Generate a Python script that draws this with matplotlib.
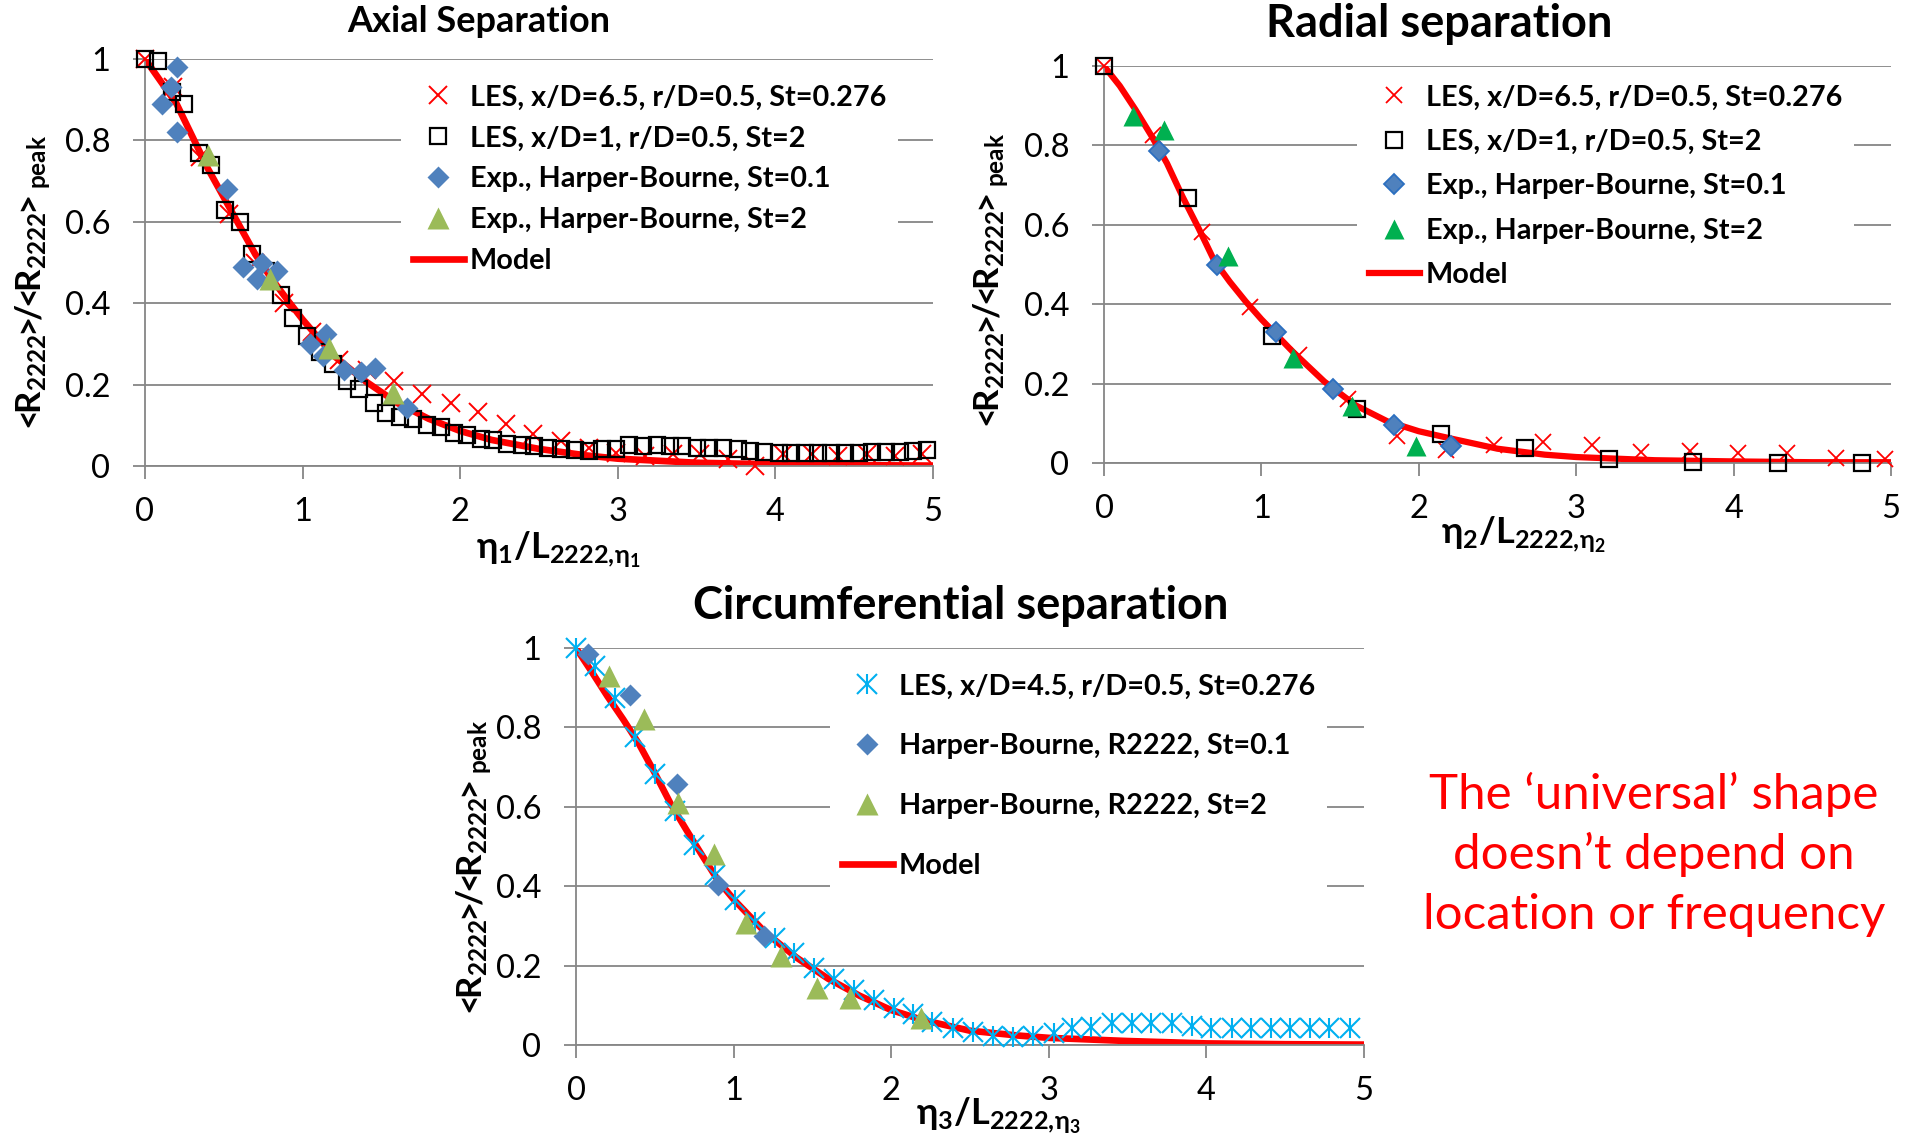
import matplotlib
matplotlib.use('Agg')
import matplotlib.pyplot as plt

plt.rcParams['font.family'] = ['Lato', 'DejaVu Sans']
plt.rcParams['mathtext.fontset'] = 'custom'
plt.rcParams['mathtext.rm'] = 'Lato'
plt.rcParams['mathtext.bf'] = 'Lato:bold'
plt.rcParams['mathtext.it'] = 'Lato:italic'
plt.rcParams['mathtext.fallback'] = 'stixsans'

# ---- Axial separation data ----
axial_les65_x = [0.00, 0.18, 0.35, 0.53, 0.70, 0.88, 1.06, 1.23, 1.41, 1.58, 1.76, 1.94, 2.11, 2.29, 2.46,
                 2.64, 2.82, 2.99, 3.17, 3.35, 3.52, 3.70, 3.87, 4.05, 4.23, 4.40, 4.58, 4.76, 4.93]
axial_les65_y = [1.00, 0.93, 0.76, 0.62, 0.50, 0.40, 0.33, 0.26, 0.235, 0.21, 0.177, 0.156, 0.132, 0.103, 0.078,
                 0.062, 0.045, 0.033, 0.025, 0.029, 0.029, 0.016, 0.0, 0.029, 0.029, 0.025, 0.029, 0.025, 0.029]

axial_les1_x = [0.00, 0.085, 0.17, 0.25, 0.34, 0.42, 0.51, 0.60, 0.68, 0.77, 0.86, 0.94, 1.03, 1.11, 1.19,
                1.28, 1.36, 1.45, 1.53, 1.62, 1.70, 1.79, 1.88, 1.96, 2.04, 2.13, 2.21, 2.30, 2.39, 2.47,
                2.56, 2.64, 2.73, 2.82, 2.90, 2.99, 3.07, 3.16, 3.25, 3.33, 3.41, 3.50, 3.58, 3.67, 3.76,
                3.84, 3.93, 4.02, 4.10, 4.19, 4.27, 4.35, 4.44, 4.53, 4.61, 4.70, 4.79, 4.87, 4.96]
axial_les1_y = [1.00, 0.996, 0.92, 0.89, 0.77, 0.74, 0.63, 0.60, 0.52, 0.48, 0.42, 0.364, 0.32, 0.28, 0.25,
                0.21, 0.19, 0.155, 0.13, 0.12, 0.115, 0.100, 0.097, 0.082, 0.076, 0.066, 0.063, 0.053, 0.051, 0.048,
                0.045, 0.041, 0.039, 0.037, 0.041, 0.041, 0.051, 0.049, 0.051, 0.049, 0.048, 0.045, 0.045, 0.043, 0.041,
                0.037, 0.035, 0.033, 0.033, 0.033, 0.033, 0.033, 0.033, 0.033, 0.035, 0.035, 0.035, 0.037, 0.039]

axial_hb01_x = [0.20, 0.165, 0.11, 0.20, 0.52, 0.62, 0.74, 0.71, 0.84, 1.05, 1.15, 1.13, 1.26, 1.37, 1.46, 1.66]
axial_hb01_y = [0.98, 0.93, 0.89, 0.82, 0.68, 0.49, 0.50, 0.46, 0.48, 0.30, 0.325, 0.27, 0.235, 0.23, 0.24, 0.143]

axial_hb2_x = [0.40, 0.79, 1.17, 1.575]
axial_hb2_y = [0.765, 0.46, 0.29, 0.18]

axial_model_x = [0.0, 0.1, 0.2, 0.3, 0.4, 0.5, 0.6, 0.7, 0.8, 0.9, 1.0, 1.2, 1.4, 1.6, 1.8, 2.0, 2.2, 2.5,
                 2.8, 3.0, 3.5, 4.0, 4.5, 5.0]
axial_model_y = [1.0, 0.945, 0.89, 0.81, 0.73, 0.66, 0.59, 0.52, 0.462, 0.41, 0.36, 0.27, 0.208, 0.155,
                 0.116, 0.086, 0.064, 0.042, 0.026, 0.018, 0.008, 0.004, 0.002, 0.001]

# ---- Radial separation data ----
radial_les65_x = [0.0, 0.31, 0.62, 0.93, 1.24, 1.55, 1.86, 2.17, 2.48, 2.79, 3.10, 3.41, 3.72, 4.03, 4.34, 4.65, 4.96]
radial_les65_y = [1.0, 0.825, 0.582, 0.394, 0.271, 0.162, 0.067, 0.032, 0.046, 0.053, 0.045, 0.028, 0.029,
                  0.024, 0.024, 0.013, 0.011]

radial_les1_x = [0.0, 0.535, 1.07, 1.605, 2.14, 2.675, 3.21, 3.745, 4.28, 4.815]
radial_les1_y = [1.0, 0.668, 0.321, 0.137, 0.072, 0.038, 0.011, 0.003, 0.0, 0.0]

radial_hb01_x = [0.349, 0.715, 1.095, 1.455, 1.84, 2.205]
radial_hb01_y = [0.787, 0.498, 0.330, 0.187, 0.095, 0.043]

radial_hb2_x = [0.184, 0.38, 0.788, 1.199, 1.575, 1.98]
radial_hb2_y = [0.875, 0.838, 0.521, 0.264, 0.143, 0.042]

radial_model_x = [0.0, 0.1, 0.2, 0.3, 0.4, 0.5, 0.6, 0.7, 0.8, 0.9, 1.0, 1.2, 1.4, 1.6, 1.8, 2.0, 2.2, 2.5,
                  2.8, 3.0, 3.5, 4.0, 4.5, 5.0]
radial_model_y = [1.0, 0.95, 0.89, 0.825, 0.755, 0.67, 0.592, 0.51, 0.456, 0.407, 0.362, 0.28, 0.205, 0.145,
                  0.105, 0.08, 0.062, 0.036, 0.021, 0.015, 0.007, 0.004, 0.002, 0.002]

# ---- Circumferential separation data ----
circ_les45_x = [0.0, 0.12, 0.247, 0.374, 0.50, 0.628, 0.75, 0.88, 1.01, 1.135, 1.26, 1.385, 1.51, 1.64, 1.765,
                1.89, 2.02, 2.14, 2.26, 2.39, 2.52, 2.645, 2.77, 2.90, 3.03, 3.15, 3.27, 3.40, 3.53, 3.65,
                3.78, 3.91, 4.03, 4.16, 4.28, 4.41, 4.53, 4.66, 4.78, 4.91]
circ_les45_y = [1.0, 0.954, 0.874, 0.777, 0.683, 0.589, 0.505, 0.429, 0.366, 0.311, 0.270, 0.232, 0.194, 0.165,
                0.139, 0.114, 0.093, 0.078, 0.059, 0.042, 0.034, 0.023, 0.019, 0.023, 0.031, 0.042, 0.046, 0.055,
                0.056, 0.056, 0.055, 0.048, 0.044, 0.042, 0.042, 0.042, 0.042, 0.042, 0.042, 0.044]

circ_hb01_x = [0.078, 0.342, 0.638, 0.90, 1.19]
circ_hb01_y = [0.986, 0.882, 0.658, 0.404, 0.275]

circ_hb2_x = [0.21, 0.43, 0.65, 0.875, 1.08, 1.30, 1.53, 1.74, 2.19]
circ_hb2_y = [0.93, 0.82, 0.61, 0.48, 0.307, 0.223, 0.144, 0.118, 0.068]

circ_model_x = [0.0, 0.1, 0.2, 0.3, 0.4, 0.5, 0.6, 0.7, 0.8, 0.9, 1.0, 1.2, 1.4, 1.6, 1.8, 2.0, 2.2, 2.5,
                2.8, 3.0, 3.5, 4.0, 4.5, 5.0]
circ_model_y = [1.0, 0.94, 0.878, 0.82, 0.758, 0.685, 0.608, 0.542, 0.478, 0.415, 0.367, 0.284, 0.22, 0.167,
                0.124, 0.088, 0.063, 0.036, 0.024, 0.018, 0.01, 0.004, 0.002, 0.001]

ticks_x = [0, 1, 2, 3, 4, 5]
ticks_y = [0, 0.2, 0.4, 0.6, 0.8, 1]
tick_labels_y = ['0', '0.2', '0.4', '0.6', '0.8', '1']

GRAY = '#868686'
RED = '#FF0000'
BLUE = '#4F81BD'
OLIVE = '#9BBB59'
GREEN = '#00B050'
CYAN = '#00B0F0'

W, H = 1907, 1147
fig = plt.figure(figsize=(W / 100, H / 100), dpi=100)


def px_axes(left, top, right, bottom):
    # pixel box (from top-left of the picture) -> figure fraction axes
    return fig.add_axes([left / W, 1 - bottom / H, (right - left) / W, (bottom - top) / H])


def style_axes(ax):
    ax.set_xlim(0, 5)
    ax.set_ylim(0, 1)
    ax.set_xticks(ticks_x)
    ax.set_yticks(ticks_y)
    ax.set_yticklabels(tick_labels_y)
    for s in ['top', 'right']:
        ax.spines[s].set_visible(False)
    for s in ['left', 'bottom']:
        ax.spines[s].set_color(GRAY)
        ax.spines[s].set_linewidth(1.3)
    ax.grid(axis='y', color=GRAY, linewidth=1.3)
    ax.set_axisbelow(True)
    ax.tick_params(axis='both', direction='out', length=9, width=1.3, color=GRAY, labelsize=23.5)
    ax.tick_params(axis='x', pad=13)
    ax.tick_params(axis='y', pad=16)


ax1 = px_axes(145, 59, 933, 466)
ax2 = px_axes(1104, 66, 1891, 463)
ax3 = px_axes(576, 648, 1364, 1045)
for ax in [ax1, ax2, ax3]:
    style_axes(ax)

leg_kw = dict(loc='upper left', bbox_transform=fig.transFigure, borderaxespad=0, frameon=True,
              facecolor='white', edgecolor='none', framealpha=1, fancybox=False,
              prop={'weight': 'bold', 'size': 20.7}, handlelength=1.8, handletextpad=0.2, borderpad=0.4)

# ---- Axial ----
ax1.plot(axial_model_x, axial_model_y, color=RED, lw=4.8, zorder=2)
h1 = ax1.plot(axial_les65_x, axial_les65_y, 'x', color=RED, ms=13.5, mew=1.4, clip_on=False, zorder=3)[0]
h2 = ax1.plot(axial_les1_x, axial_les1_y, 's', mfc='none', mec='black', ms=11.3, mew=1.6, clip_on=False, zorder=4)[0]
h3 = ax1.plot(axial_hb01_x, axial_hb01_y, 'D', color=BLUE, mec='none', ms=11, clip_on=False, zorder=5)[0]
h4 = ax1.plot(axial_hb2_x, axial_hb2_y, '^', color=OLIVE, mec='none', ms=16, clip_on=False, zorder=6)[0]
hm = ax1.lines[0]
ax1.legend([h1, h2, h3, h4, hm],
           ['LES, x/D=6.5, r/D=0.5, St=0.276', 'LES, x/D=1, r/D=0.5, St=2',
            'Exp., Harper-Bourne, St=0.1', 'Exp., Harper-Bourne, St=2', 'Model'],
           bbox_to_anchor=(401 / W, 1 - 73 / H), labelspacing=0.52, **leg_kw)

# ---- Radial ----
ax2.plot(radial_model_x, radial_model_y, color=RED, lw=4.5, zorder=2)
r1 = ax2.plot(radial_les65_x, radial_les65_y, 'x', color=RED, ms=12, mew=1.3, clip_on=False, zorder=3)[0]
r2 = ax2.plot(radial_les1_x, radial_les1_y, 's', mfc='none', mec='black', ms=11, mew=1.6, clip_on=False, zorder=4)[0]
r3 = ax2.plot(radial_hb01_x, radial_hb01_y, 'D', color=BLUE, mec='#2C6FC0', mew=1.3, ms=10, clip_on=False, zorder=5)[0]
r4 = ax2.plot(radial_hb2_x, radial_hb2_y, '^', color=GREEN, mec='none', ms=14.5, clip_on=False, zorder=6)[0]
rm = ax2.lines[0]
ax2.legend([r1, r2, r3, r4, rm],
           ['LES, x/D=6.5, r/D=0.5, St=0.276', 'LES, x/D=1, r/D=0.5, St=2',
            'Exp., Harper-Bourne, St=0.1', 'Exp., Harper-Bourne, St=2', 'Model'],
           bbox_to_anchor=(1357 / W, 1 - 73 / H), labelspacing=0.64, **leg_kw)

# ---- Circumferential ----
ax3.plot(circ_model_x, circ_model_y, color=RED, lw=4.8, zorder=2)
c1a = ax3.plot(circ_les45_x, circ_les45_y, 'x', color=CYAN, ms=15, mew=1.5, clip_on=False, zorder=3)[0]
c1b = ax3.plot(circ_les45_x, circ_les45_y, '|', color=CYAN, ms=15, mew=1.5, clip_on=False, zorder=3)[0]
c2 = ax3.plot(circ_hb01_x, circ_hb01_y, 'D', color=BLUE, mec='none', ms=11, clip_on=False, zorder=5)[0]
c3 = ax3.plot(circ_hb2_x, circ_hb2_y, '^', color=OLIVE, mec='none', ms=16, clip_on=False, zorder=6)[0]
cm = ax3.lines[0]
ax3.legend([(c1a, c1b), c2, c3, cm],
           ['LES, x/D=4.5, r/D=0.5, St=0.276', 'Harper-Bourne, R2222, St=0.1',
            'Harper-Bourne, R2222, St=2', 'Model'],
           bbox_to_anchor=(830 / W, 1 - 662 / H), labelspacing=1.18, **leg_kw)

# ---- titles and axis labels ----
fig.text(479 / W, 1 - 22 / H, 'Axial Separation', ha='center', va='center', fontsize=26, fontweight='bold')
fig.text(1439 / W, 1 - 24 / H, 'Radial separation', ha='center', va='center', fontsize=32.5, fontweight='bold')
fig.text(961 / W, 1 - 606 / H, 'Circumferential separation', ha='center', va='center', fontsize=32.5,
         fontweight='bold')

ylab = r'$\mathbf{<\!\!R_{2222}\!\!>\!\!/\!\!<\!\!R_{2222}\!\!>_{peak}}$'
fig.text(33 / W, 1 - 285 / H, ylab, rotation=90, ha='center', va='center', fontsize=25)
fig.text(991 / W, 1 - 283 / H, ylab, rotation=90, ha='center', va='center', fontsize=25)
fig.text(474 / W, 1 - 870 / H, ylab, rotation=90, ha='center', va='center', fontsize=25)

fig.text(559 / W, 1 - 550 / H, r'$\mathbf{η_1/L_{2222,\!η_1}}$', ha='center', va='center', fontsize=26)
fig.text(1524 / W, 1 - 535 / H, r'$\mathbf{η_2/L_{2222,\!η_2}}$', ha='center', va='center', fontsize=26)
fig.text(999 / W, 1 - 1116 / H, r'$\mathbf{η_3/L_{2222,\!η_3}}$', ha='center', va='center', fontsize=26)

# red note on the right
fig.text(1654 / W, 1 - 854 / H, 'The \u2018universal\u2019 shape\ndoesn\u2019t depend on\nlocation or frequency',
         ha='center', va='center', fontsize=35.5, color=RED, linespacing=1.42)

fig.savefig('out.png', dpi=100)
